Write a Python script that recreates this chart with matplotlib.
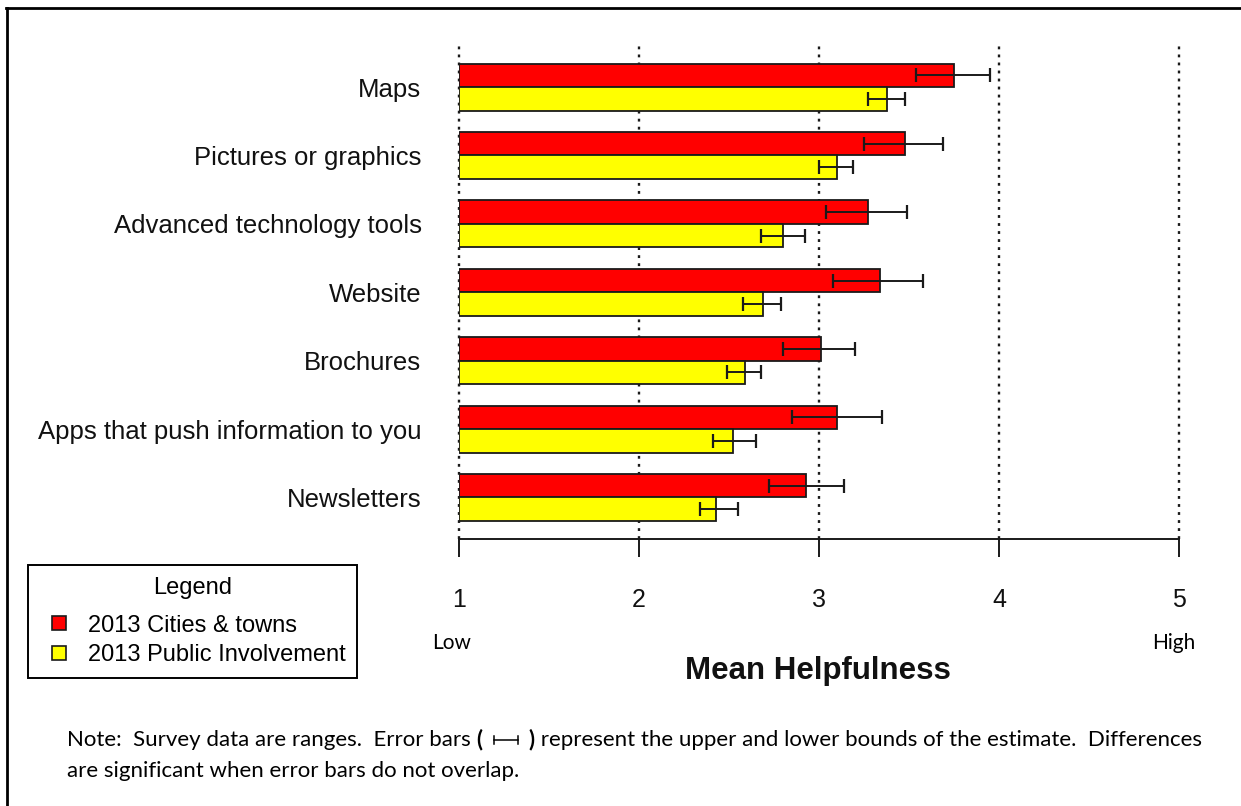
import matplotlib
matplotlib.use("Agg")
import matplotlib.pyplot as plt
from matplotlib.lines import Line2D
import numpy as np

# ── Data ──
categories = ["Maps", "Pictures or graphics", "Advanced technology tools",
              "Website", "Brochures", "Apps that push information to you",
              "Newsletters"]
cities_mean = [3.75, 3.48, 3.27, 3.34, 3.01, 3.10, 2.93]
cities_low = [3.54, 3.25, 3.04, 3.08, 2.80, 2.85, 2.72]
cities_high = [3.95, 3.69, 3.49, 3.58, 3.20, 3.35, 3.14]
public_mean = [3.38, 3.10, 2.80, 2.69, 2.59, 2.52, 2.43]
public_low = [3.27, 3.00, 2.68, 2.58, 2.49, 2.41, 2.34]
public_high = [3.48, 3.19, 2.92, 2.79, 2.68, 2.65, 2.55]
series_labels = ["2013 Cities & towns", "2013 Public Involvement"]
x_ticks = [1, 2, 3, 4, 5]

RED = "#ff0000"
YELLOW = "#ffff00"
INK = "#1a1a1a"
SANS = ["Liberation Sans", "DejaVu Sans"]
NOTE_FONT = ["Lato", "DejaVu Sans"]

W, H = 1241, 806
fig = plt.figure(figsize=(W / 100, H / 100), dpi=100, facecolor="white")

# frame lines (left + top) of the pasted figure
fig.add_artist(Line2D([6 / W, 1], [1 - 8 / H, 1 - 8 / H], color="black",
                      lw=2.0, transform=fig.transFigure))
fig.add_artist(Line2D([7 / W, 7 / W], [0, 1 - 8 / H], color="black",
                      lw=2.0, transform=fig.transFigure))

ax = fig.add_axes([459 / W, 1 - 539 / H, 720 / W, 493 / H])
ax.set_facecolor("white")

y = np.arange(len(categories))
h = 0.343
base = 1.0

ax.barh(y - h / 2, np.array(cities_mean) - base, left=base, height=h,
        color=RED, edgecolor=INK, linewidth=1.3, zorder=3)
ax.barh(y + h / 2, np.array(public_mean) - base, left=base, height=h,
        color=YELLOW, edgecolor=INK, linewidth=1.3, zorder=3)

for means, lo, hi, off in [(cities_mean, cities_low, cities_high, -h / 2),
                           (public_mean, public_low, public_high, h / 2)]:
    means = np.array(means)
    err = [means - np.array(lo), np.array(hi) - means]
    ax.errorbar(means, y + off, xerr=err, fmt="none", ecolor=INK,
                elinewidth=1.4, capsize=5, capthick=1.6, zorder=4)

ax.set_xlim(1, 5)
ax.set_ylim(6.607, -0.6)

for xv in x_ticks:
    ax.axvline(xv, color=INK, lw=1.7, linestyle=(0, (1.2, 2.2)), zorder=1,
               clip_on=False)

for s in ["top", "right", "left"]:
    ax.spines[s].set_visible(False)
ax.spines["bottom"].set_color(INK)
ax.spines["bottom"].set_linewidth(1.4)

ax.set_xticks(x_ticks)
ax.set_xticklabels([str(v) for v in x_ticks], fontsize=18, family=SANS)
ax.tick_params(axis="x", length=13, width=1.4, color=INK, pad=22,
               labelcolor="#111111")
ax.set_yticks(y)
ax.set_yticklabels(categories, fontsize=18.5, family=SANS)
ax.tick_params(axis="y", length=0, pad=27, labelcolor="#111111")

# Low / High and axis title
fig.text(452 / W, 1 - 643 / H, "Low", fontsize=15, family=NOTE_FONT,
         ha="center", va="center")
fig.text(1174 / W, 1 - 643 / H, "High", fontsize=15, family=NOTE_FONT,
         ha="center", va="center")
fig.text(818 / W, 1 - 671 / H, "Mean Helpfulness", fontsize=22.5,
         fontweight="bold", family=SANS, ha="center", va="center",
         color="#111111")

# Legend (square markers centred in a wide handle box)
handles = [Line2D([], [], marker="s", markersize=10, linestyle="none",
                  markerfacecolor=c, markeredgecolor=INK, markeredgewidth=1.2)
           for c in (RED, YELLOW)]
leg = fig.legend(handles, series_labels, title="Legend",
                 loc="upper left", bbox_to_anchor=(28 / W, 1 - 565 / H),
                 prop={"family": SANS, "size": 17},
                 title_fontproperties={"family": SANS, "size": 17},
                 handlelength=1.6, handletextpad=0.42,
                 borderpad=0.5, labelspacing=0.33, borderaxespad=0,
                 fancybox=False, edgecolor="black", framealpha=1)
leg.get_frame().set_linewidth(1.4)
leg._legend_box.sep = 0.33 * 17 + 5.8   # extra room under the title

# Note text (bold parentheses around a drawn error bar symbol)
fig.canvas.draw()
renderer = fig.canvas.get_renderer()
y1 = 1 - 740 / H
x0 = 67 / W


def put(txt, wt="normal"):
    global x0
    t = fig.text(x0, y1, txt, fontsize=16, family=NOTE_FONT,
                 fontweight=wt, ha="left", va="center")
    x0 = t.get_window_extent(renderer).x1 / W


put("Note:  Survey data are ranges.  Error bars ")
put("(", "bold")
# tiny error bar glyph
sx0, sx1 = x0 + 11 / W, x0 + 35 / W
fig.add_artist(Line2D([sx0, sx1], [y1, y1], color="black", lw=1.1,
                      transform=fig.transFigure))
for sx in (sx0, sx1):
    fig.add_artist(Line2D([sx, sx], [y1 - 4 / H, y1 + 4 / H], color="black",
                          lw=1.1, transform=fig.transFigure))
x0 = sx1 + 11 / W
put(")", "bold")
put(" represent the upper and lower bounds of the estimate.  Differences")
fig.text(67 / W, 1 - 771 / H, "are significant when error bars do not overlap.",
         fontsize=16, family=NOTE_FONT, ha="left", va="center")

fig.savefig("out.png", dpi=100, facecolor="white")
